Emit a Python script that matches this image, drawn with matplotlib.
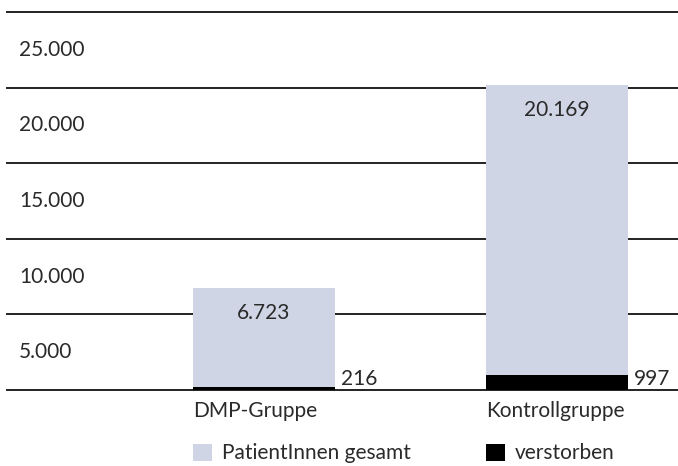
import matplotlib
matplotlib.use("Agg")
import matplotlib.pyplot as plt
import matplotlib.transforms as mtransforms
from matplotlib.patches import Rectangle

plt.rcParams["font.family"] = ["Lato", "DejaVu Sans"]

# Daten
groups = ["DMP-Gruppe", "Kontrollgruppe"]
total = [6723, 20169]
deceased = [216, 997]
total_labels = ["6.723", "20.169"]
deceased_labels = ["216", "997"]
grid_values = [0, 5000, 10000, 15000, 20000, 25000]
tick_labels = ["5.000", "10.000", "15.000", "20.000", "25.000"]
legend_labels = ["PatientInnen gesamt", "verstorben"]

LIGHT = "#d0d5e6"
DARK = "#000000"
TEXT = "#2a2a2a"
FS = 15

W, H, DPI = 678, 466, 100
fig = plt.figure(figsize=(W / DPI, H / DPI), dpi=DPI)
ax = fig.add_axes([7 / W, (H - 390) / H, (W - 7) / W, (390 - 12) / H])
ax.set_ylim(0, 25000)
ax.set_xlim(-257 / 293, (671 - 257) / 293)
ax.axis("off")

# Gitterlinien
for v in grid_values:
    ax.axhline(v, color="#222222", lw=1.4, zorder=1, clip_on=False)

# Y-Beschriftungen zwischen den Linien
ytrans = mtransforms.blended_transform_factory(ax.transAxes, ax.transData)
for v, lab in zip(grid_values[1:], tick_labels):
    ax.text(12 / 671, v - 2500, lab, transform=ytrans, ha="left", va="center",
            fontsize=FS, color=TEXT)

bw = 142 / 293
x = list(range(len(groups)))
ax.bar(x, total, width=bw, color=LIGHT, zorder=2)
ax.bar(x, deceased, width=bw, color=DARK, zorder=3)

for i in x:
    ax.annotate(total_labels[i], (i, total[i]), xytext=(0, -18), textcoords="offset points",
                ha="center", va="center", fontsize=FS, color=TEXT)
    ax.annotate(deceased_labels[i], (i + bw / 2, 0), xytext=(4, 1), textcoords="offset points",
                ha="left", va="bottom", fontsize=FS, color=TEXT)
    ax.annotate(groups[i], (i - bw / 2, 0), xytext=(0, -15), textcoords="offset points",
                ha="left", va="center", fontsize=FS, color=TEXT, annotation_clip=False)

# Legende
xfig = mtransforms.blended_transform_factory(ax.transData, fig.transFigure)
for i, (lab, col) in enumerate(zip(legend_labels, [LIGHT, DARK])):
    x0 = i - bw / 2
    ax.add_patch(Rectangle((x0, (H - 461) / H), 19 / 293, 17 / H, transform=xfig,
                           facecolor=col, edgecolor="none", clip_on=False))
    ax.text(x0 + 29 / 293, (H - 453) / H, lab, transform=xfig, ha="left", va="center",
            fontsize=FS, color=TEXT)

fig.savefig("out.png", dpi=DPI, facecolor="white")
